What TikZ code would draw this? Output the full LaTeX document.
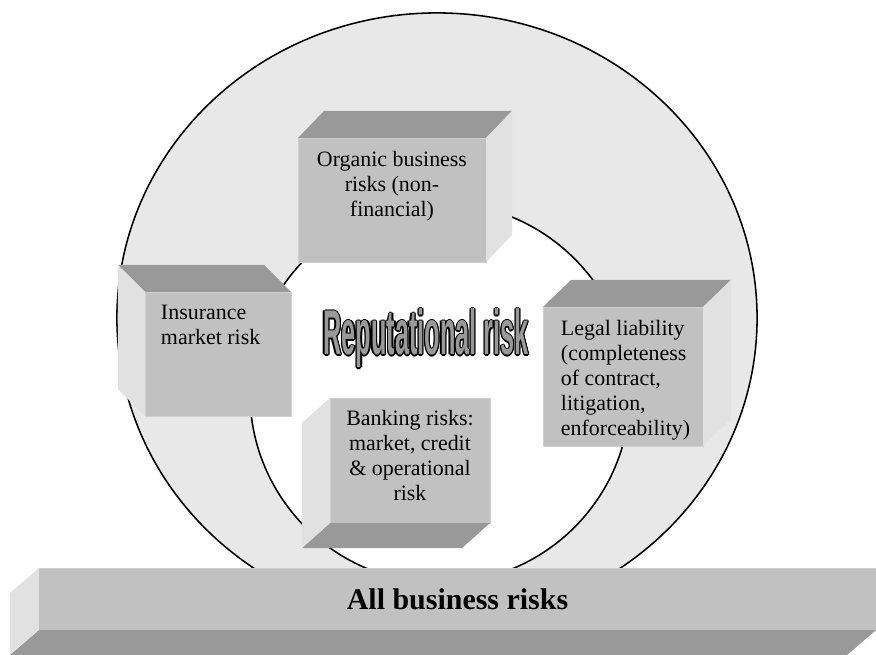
\documentclass[tikz,border=0pt]{standalone}
\usepackage{fontspec}
\setmainfont{Liberation Serif}
\newfontfamily\repfont{Liberation Sans}
\usepackage{tikz}
\definecolor{RingGray}{RGB}{232, 232, 232}
\definecolor{FrontGray}{RGB}{193, 193, 193}
\definecolor{FrontEdge}{RGB}{208, 208, 208}
\definecolor{TopGray}{RGB}{153, 153, 153}
\definecolor{SideGray}{RGB}{225, 225, 225}
\tikzset{
    front/.style={rectangle, fill=FrontGray, draw=FrontEdge, line width=0.6pt, inner sep=0pt, outer sep=0pt},
    topface/.style={fill=TopGray},
    sideface/.style={fill=SideGray},
    boxtext/.style={font=\fontsize{15.6}{17.8}\selectfont, inner sep=0pt, outer sep=0pt},
    reptext/.style={font=\repfont\bfseries\fontsize{45}{45}\selectfont, inner sep=0pt, anchor=base},
}

\begin{document}
\begin{tikzpicture}[x=0.025cm, y=-0.025cm]
    \useasboundingbox (0,0) rectangle (876,655);
    % ring
    \draw[fill=RingGray, line width=1.1pt] (437,318) ellipse [x radius=8cm, y radius=7.625cm];
    \draw[fill=white, line width=1.1pt] (440,393) circle [radius=4.75cm];

    % organic business risks
    \node[front, minimum width=4.7cm, minimum height=3.1cm] (organic) at (392,200) {};
    \fill[topface] (organic.north west) -- ++(26,-27) -- ([shift={(26,-27)}]organic.north east) -- (organic.north east) -- cycle;
    \fill[sideface] (organic.north east) -- ++(26,-27) -- ([shift={(26,-27)}]organic.south east) -- (organic.south east) -- cycle;
    \node[boxtext, anchor=north, align=center] (organic-txt) at ([shift={(0,13)}]organic.north) {Organic business\\risks (non-\\financial)};

    % insurance
    \node[front, minimum width=3.65cm, minimum height=3.1cm] (insur) at (218,354) {};
    \fill[topface] (insur.north east) -- ++(-27,-27) -- ([shift={(-27,-27)}]insur.north west) -- (insur.north west) -- cycle;
    \fill[sideface] (insur.north west) -- ++(-27,-27) -- ([shift={(-27,-27)}]insur.south west) -- (insur.south west) -- cycle;
    \node[boxtext, anchor=north west, align=left] (insur-txt) at ([shift={(16,13)}]insur.north west) {Insurance\\market risk};

    % legal liability
    \node[front, minimum width=4cm, minimum height=3.475cm] (legal) at (623,376.5) {};
    \fill[topface] (legal.north west) -- ++(28,-27) -- ([shift={(28,-27)}]legal.north east) -- (legal.north east) -- cycle;
    \fill[sideface] (legal.north east) -- ++(28,-27) -- ([shift={(28,-27)}]legal.south east) -- (legal.south east) -- cycle;
    \node[boxtext, anchor=north west, align=left] (legal-txt) at ([shift={(18,13)}]legal.north west) {Legal liability\\(completeness\\of contract,\\litigation,\\enforceability)};

    % banking
    \node[front, minimum width=4cm, minimum height=3.125cm] (bank) at (410,460.5) {};
    \fill[topface] (bank.south east) -- ++(-28,25) -- ([shift={(-28,25)}]bank.south west) -- (bank.south west) -- cycle;
    \fill[sideface] (bank.north west) -- ++(-28,25) -- ([shift={(-28,25)}]bank.south west) -- (bank.south west) -- cycle;
    \node[boxtext, anchor=north, align=center] (bank-txt) at ([shift={(0,12)}]bank.north) {Banking risks:\\market, credit\\\& operational\\risk};

    % reputational risk, outlined
    \foreach \a in {0,45,...,315}
        \node[reptext, text=black] (rep\a) at ([shift={(\a:1.4)}]426,355) {\scalebox{0.4}[1]{Reputational risk}};
    \node[reptext, text=TopGray] (reput) at (426,355) {\scalebox{0.4}[1]{Reputational risk}};

    % base bar
    \node[front, minimum width=20.925cm, minimum height=1.55cm, font=\bfseries\fontsize{21.3}{24}\selectfont] (allrisks) at (457.5,599) {All business risks};
    \fill[topface] (allrisks.south east) -- ++(-29,25) -- ([shift={(-29,25)}]allrisks.south west) -- (allrisks.south west) -- cycle;
    \fill[sideface] (allrisks.north west) -- ++(-29,25) -- ([shift={(-29,25)}]allrisks.south west) -- (allrisks.south west) -- cycle;
\end{tikzpicture}
\end{document}
